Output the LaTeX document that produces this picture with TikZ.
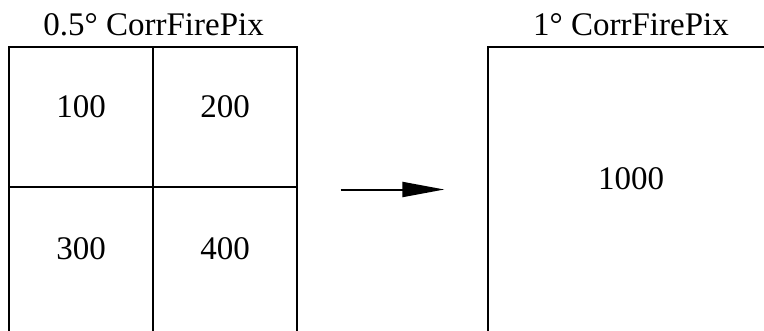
\documentclass[tikz,border=0pt]{standalone}
\usepackage{fontspec}
\setmainfont{Liberation Serif}
\usetikzlibrary{positioning,arrows.meta}
\tikzset{
	cell/.style = {draw, line width=1.2pt, rectangle, minimum width=144pt, inner sep=0pt},
	bigcell/.style = {draw, line width=1.2pt, rectangle, minimum width=286pt, minimum height=285pt, inner sep=0pt},
	num/.style = {font=\fontsize{33}{40}\selectfont, inner sep=0pt, yshift=10.5pt},
	title/.style = {font=\fontsize{33}{40}\selectfont, inner sep=0pt},
	arrow/.style = {line width=2pt, -{Triangle[length=42pt,width=15pt]}, shorten <=43pt, shorten >=43pt}
}
\begin{document}
\begin{tikzpicture}[x=1pt,y=-1pt]
		\useasboundingbox (0,0) rectangle (764,330);
		\clip (0,0) rectangle (764,330);
		% 0.5 degree grid
		\node[cell, minimum height=140pt] (c1) at (81,117) {};
		\node[cell, minimum height=140pt] (c2) at (225,117) {};
		\node[cell, minimum height=145pt] (c3) at (81,259.5) {};
		\node[cell, minimum height=145pt] (c4) at (225,259.5) {};
		\node[num] (n100) at (c1.center) {100};
		\node[num] (n200) at (c2.center) {200};
		\node[num] (n300) at (c3.center) {300};
		\node[num] (n400) at (c4.center) {400};
		\node[title, anchor=south, above=10pt of c1.north east] (t1) {0.5° CorrFirePix};
		% 1 degree cell
		\node[bigcell] (big) at (631,189.5) {};
		\node[num] (n1000) at (big.center) {1000};
		\node[title, anchor=south, above=10pt of big.north] (t2) {1° CorrFirePix};
		\draw[arrow] (c2.east |- big.west) -- (big.west);
	\end{tikzpicture}
\end{document}
